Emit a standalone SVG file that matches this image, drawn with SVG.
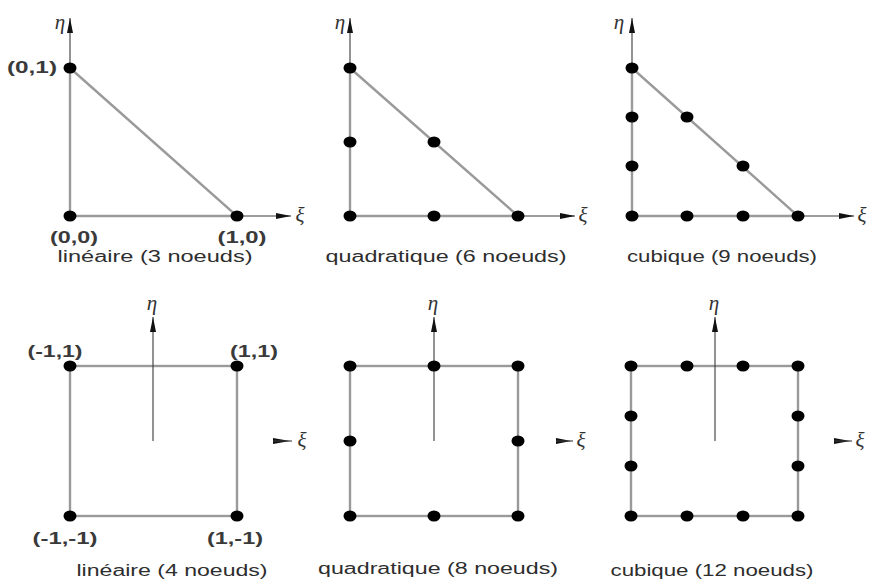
<svg xmlns="http://www.w3.org/2000/svg" width="870" height="580" viewBox="0 0 870 580">
<style>
.edge{stroke:#9a9a9a;stroke-width:2.4;fill:none}
.axis{stroke:#3a3a3a;stroke-width:1.1;fill:none}
.nd{fill:#000}
.cap{font-family:"Liberation Sans",Arial,sans-serif;font-size:16px;fill:#2e2e2e;text-anchor:middle}
.crd{font-family:"Liberation Sans",Arial,sans-serif;font-size:16px;font-weight:bold;fill:#3a3a3a;text-anchor:middle}
.gr{font-family:"Liberation Serif","DejaVu Serif",serif;font-style:italic;font-size:21px;fill:#333;text-anchor:middle}
.tip{fill:#111}
</style>
<defs>
<marker id="ah" markerUnits="userSpaceOnUse" markerWidth="16" markerHeight="8" refX="15" refY="3.5" orient="auto">
<path d="M0,0.5 L15,3.5 L0,6.5 z" fill="#111"/>
</marker>
</defs>
<rect width="870" height="580" fill="#fff"/>

<!-- Panel 1: triangle linear -->
<g id="tri-lin">
<g id="tri-lin-edges" class="connectors">
<line class="axis" x1="70" y1="216" x2="70" y2="18" marker-end="url(#ah)"/>
<line class="axis" x1="70" y1="216" x2="291" y2="216" marker-end="url(#ah)"/>
<path class="edge" d="M70,68 L70,216 L237,216 Z"/>
</g>
<g id="tri-lin-n1"><ellipse class="nd" cx="70" cy="68" rx="6.5" ry="5.5"/></g>
<g id="tri-lin-n2"><ellipse class="nd" cx="70" cy="216" rx="6.5" ry="5.5"/></g>
<g id="tri-lin-n3"><ellipse class="nd" cx="237" cy="216" rx="6.5" ry="5.5"/></g>
<text class="gr" x="60" y="29">η</text>
<text class="gr" x="300" y="222">ξ</text>
<text class="crd" x="32" y="73" textLength="50" lengthAdjust="spacingAndGlyphs">(0,1)</text>
<text class="crd" x="74" y="243" textLength="48" lengthAdjust="spacingAndGlyphs">(0,0)</text>
<text class="crd" x="242" y="243" textLength="49" lengthAdjust="spacingAndGlyphs">(1,0)</text>
<text class="cap" x="155" y="262" textLength="195" lengthAdjust="spacingAndGlyphs">linéaire (3 noeuds)</text>
</g>

<!-- Panel 2: triangle quadratic -->
<g id="tri-quad">
<g id="tri-quad-edges" class="connectors">
<line class="axis" x1="350" y1="216" x2="350" y2="18" marker-end="url(#ah)"/>
<line class="axis" x1="350" y1="216" x2="575" y2="216" marker-end="url(#ah)"/>
<path class="edge" d="M350,68 L350,216 L518,216 Z"/>
</g>
<g id="tri-quad-n1"><ellipse class="nd" cx="350" cy="68" rx="6.5" ry="5.5"/></g>
<g id="tri-quad-n2"><ellipse class="nd" cx="350" cy="142" rx="6.5" ry="5.5"/></g>
<g id="tri-quad-n3"><ellipse class="nd" cx="350" cy="216" rx="6.5" ry="5.5"/></g>
<g id="tri-quad-n4"><ellipse class="nd" cx="434" cy="142" rx="6.5" ry="5.5"/></g>
<g id="tri-quad-n5"><ellipse class="nd" cx="434" cy="216" rx="6.5" ry="5.5"/></g>
<g id="tri-quad-n6"><ellipse class="nd" cx="518" cy="216" rx="6.5" ry="5.5"/></g>
<text class="gr" x="340" y="29">η</text>
<text class="gr" x="583" y="222">ξ</text>
<text class="cap" x="446" y="262" textLength="241" lengthAdjust="spacingAndGlyphs">quadratique (6 noeuds)</text>
</g>

<!-- Panel 3: triangle cubic -->
<g id="tri-cub">
<g id="tri-cub-edges" class="connectors">
<line class="axis" x1="632" y1="216" x2="632" y2="18" marker-end="url(#ah)"/>
<line class="axis" x1="632" y1="216" x2="854" y2="216" marker-end="url(#ah)"/>
<path class="edge" d="M632,68 L632,216 L798,216 Z"/>
</g>
<g id="tri-cub-n1"><ellipse class="nd" cx="632" cy="68" rx="6.5" ry="5.5"/></g>
<g id="tri-cub-n2"><ellipse class="nd" cx="632" cy="117" rx="6.5" ry="5.5"/></g>
<g id="tri-cub-n3"><ellipse class="nd" cx="632" cy="166" rx="6.5" ry="5.5"/></g>
<g id="tri-cub-n4"><ellipse class="nd" cx="632" cy="216" rx="6.5" ry="5.5"/></g>
<g id="tri-cub-n5"><ellipse class="nd" cx="687" cy="117" rx="6.5" ry="5.5"/></g>
<g id="tri-cub-n6"><ellipse class="nd" cx="743" cy="166" rx="6.5" ry="5.5"/></g>
<g id="tri-cub-n7"><ellipse class="nd" cx="687" cy="216" rx="6.5" ry="5.5"/></g>
<g id="tri-cub-n8"><ellipse class="nd" cx="743" cy="216" rx="6.5" ry="5.5"/></g>
<g id="tri-cub-n9"><ellipse class="nd" cx="798" cy="216" rx="6.5" ry="5.5"/></g>
<text class="gr" x="619" y="29">η</text>
<text class="gr" x="862" y="222">ξ</text>
<text class="cap" x="722" y="262" textLength="190" lengthAdjust="spacingAndGlyphs">cubique (9 noeuds)</text>
</g>

<!-- Panel 4: quad linear -->
<g id="quad-lin">
<g id="quad-lin-edges" class="connectors">
<rect class="edge" x="70" y="366" width="167" height="150"/>
<line class="axis" x1="153" y1="441" x2="153" y2="317" marker-end="url(#ah)"/>
<path class="tip" d="M273,438 L273,444 L290,441 Z"/>
<line class="axis" x1="273" y1="441" x2="292" y2="441"/>
</g>
<g id="quad-lin-n1"><ellipse class="nd" cx="70" cy="366" rx="6.5" ry="5.5"/></g>
<g id="quad-lin-n2"><ellipse class="nd" cx="237" cy="366" rx="6.5" ry="5.5"/></g>
<g id="quad-lin-n3"><ellipse class="nd" cx="70" cy="516" rx="6.5" ry="5.5"/></g>
<g id="quad-lin-n4"><ellipse class="nd" cx="237" cy="516" rx="6.5" ry="5.5"/></g>
<text class="gr" x="152" y="310">η</text>
<text class="gr" x="302" y="447">ξ</text>
<text class="crd" x="55" y="357" textLength="55" lengthAdjust="spacingAndGlyphs">(-1,1)</text>
<text class="crd" x="254" y="357" textLength="48" lengthAdjust="spacingAndGlyphs">(1,1)</text>
<text class="crd" x="65" y="544" textLength="65" lengthAdjust="spacingAndGlyphs">(-1,-1)</text>
<text class="crd" x="235" y="544" textLength="56" lengthAdjust="spacingAndGlyphs">(1,-1)</text>
<text class="cap" x="172" y="576" textLength="191" lengthAdjust="spacingAndGlyphs">linéaire (4 noeuds)</text>
</g>

<!-- Panel 5: quad quadratic -->
<g id="quad-quad">
<g id="quad-quad-edges" class="connectors">
<rect class="edge" x="350" y="366" width="168" height="150"/>
<line class="axis" x1="434" y1="441" x2="434" y2="317" marker-end="url(#ah)"/>
<path class="tip" d="M556,438 L556,444 L571,441 Z"/>
<line class="axis" x1="556" y1="441" x2="573" y2="441"/>
</g>
<g id="quad-quad-n1"><ellipse class="nd" cx="350" cy="366" rx="6.5" ry="5.5"/></g>
<g id="quad-quad-n2"><ellipse class="nd" cx="434" cy="366" rx="6.5" ry="5.5"/></g>
<g id="quad-quad-n3"><ellipse class="nd" cx="518" cy="366" rx="6.5" ry="5.5"/></g>
<g id="quad-quad-n4"><ellipse class="nd" cx="350" cy="441" rx="6.5" ry="5.5"/></g>
<g id="quad-quad-n5"><ellipse class="nd" cx="518" cy="441" rx="6.5" ry="5.5"/></g>
<g id="quad-quad-n6"><ellipse class="nd" cx="350" cy="516" rx="6.5" ry="5.5"/></g>
<g id="quad-quad-n7"><ellipse class="nd" cx="434" cy="516" rx="6.5" ry="5.5"/></g>
<g id="quad-quad-n8"><ellipse class="nd" cx="518" cy="516" rx="6.5" ry="5.5"/></g>
<text class="gr" x="433" y="310">η</text>
<text class="gr" x="581" y="447">ξ</text>
<text class="cap" x="438" y="574" textLength="240" lengthAdjust="spacingAndGlyphs">quadratique (8 noeuds)</text>
</g>

<!-- Panel 6: quad cubic -->
<g id="quad-cub">
<g id="quad-cub-edges" class="connectors">
<rect class="edge" x="631" y="366" width="167" height="150"/>
<line class="axis" x1="715" y1="441" x2="715" y2="317" marker-end="url(#ah)"/>
<path class="tip" d="M834,438 L834,444 L850,441 Z"/>
<line class="axis" x1="834" y1="441" x2="852" y2="441"/>
</g>
<g id="quad-cub-n1"><ellipse class="nd" cx="631" cy="366" rx="6.5" ry="5.5"/></g>
<g id="quad-cub-n2"><ellipse class="nd" cx="687" cy="366" rx="6.5" ry="5.5"/></g>
<g id="quad-cub-n3"><ellipse class="nd" cx="743" cy="366" rx="6.5" ry="5.5"/></g>
<g id="quad-cub-n4"><ellipse class="nd" cx="798" cy="366" rx="6.5" ry="5.5"/></g>
<g id="quad-cub-n5"><ellipse class="nd" cx="631" cy="416" rx="6.5" ry="5.5"/></g>
<g id="quad-cub-n6"><ellipse class="nd" cx="798" cy="416" rx="6.5" ry="5.5"/></g>
<g id="quad-cub-n7"><ellipse class="nd" cx="631" cy="466" rx="6.5" ry="5.5"/></g>
<g id="quad-cub-n8"><ellipse class="nd" cx="798" cy="466" rx="6.5" ry="5.5"/></g>
<g id="quad-cub-n9"><ellipse class="nd" cx="631" cy="516" rx="6.5" ry="5.5"/></g>
<g id="quad-cub-n10"><ellipse class="nd" cx="687" cy="516" rx="6.5" ry="5.5"/></g>
<g id="quad-cub-n11"><ellipse class="nd" cx="743" cy="516" rx="6.5" ry="5.5"/></g>
<g id="quad-cub-n12"><ellipse class="nd" cx="798" cy="516" rx="6.5" ry="5.5"/></g>
<text class="gr" x="714" y="310">η</text>
<text class="gr" x="860" y="447">ξ</text>
<text class="cap" x="712" y="576" textLength="203" lengthAdjust="spacingAndGlyphs">cubique (12 noeuds)</text>
</g>
</svg>
